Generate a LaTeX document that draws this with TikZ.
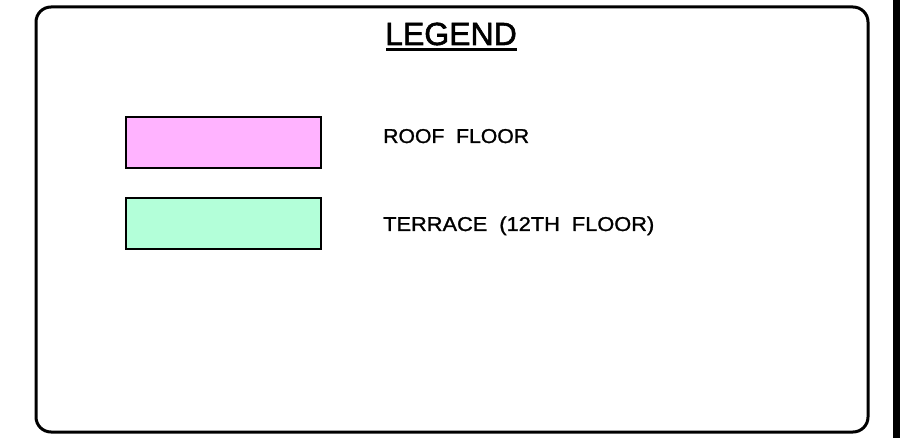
\documentclass[tikz,border=0pt]{standalone}
\usepackage{fontspec}
\setmainfont{Liberation Sans}
\newfontfamily\cadfont[FakeBold=1.2]{Liberation Sans}
\newfontfamily\cadtitlefont[FakeBold=1.8]{Liberation Sans}
\definecolor{roofpink}{HTML}{FFB3FF}
\definecolor{terracegreen}{HTML}{B3FFD9}
\begin{document}
\begin{tikzpicture}[x=1pt,y=-1pt,
  frame/.style={line width=3pt,rounded corners=15pt},
  swatch/.style={draw,line width=2pt,minimum width=195pt,minimum height=51pt,inner sep=0pt,outer sep=0pt},
  label/.style={anchor=base west,inner sep=0pt,font=\cadfont\fontsize{20}{20}\selectfont},
  title/.style={anchor=base,inner sep=0pt,font=\cadtitlefont\fontsize{32}{32}\selectfont}]
\useasboundingbox (0,0) rectangle (900,438);
\fill[white] (0,0) rectangle (900,438);
\fill[black] (893,0) rectangle (900,438);
\draw[frame] (36,7) rectangle (868,432);
\node[title] (legend) at (451,45) {LEGEND};
\draw[line width=3pt] (386,49.5) -- (517,49.5);
\node[swatch,fill=roofpink] (roof) at (223.5,142.5) {};
\node[swatch,fill=terracegreen] (terrace) at (223.5,223.5) {};
\node[label] (rooftext) at (383,143) {\scalebox{1.06}[1]{ROOF\hspace{11pt}FLOOR}};
\node[label] (terracetext) at (383,231) {\scalebox{1.09}[1]{TERRACE\hspace{11pt}(12TH\hspace{11pt}FLOOR)}};
\end{tikzpicture}
\end{document}
